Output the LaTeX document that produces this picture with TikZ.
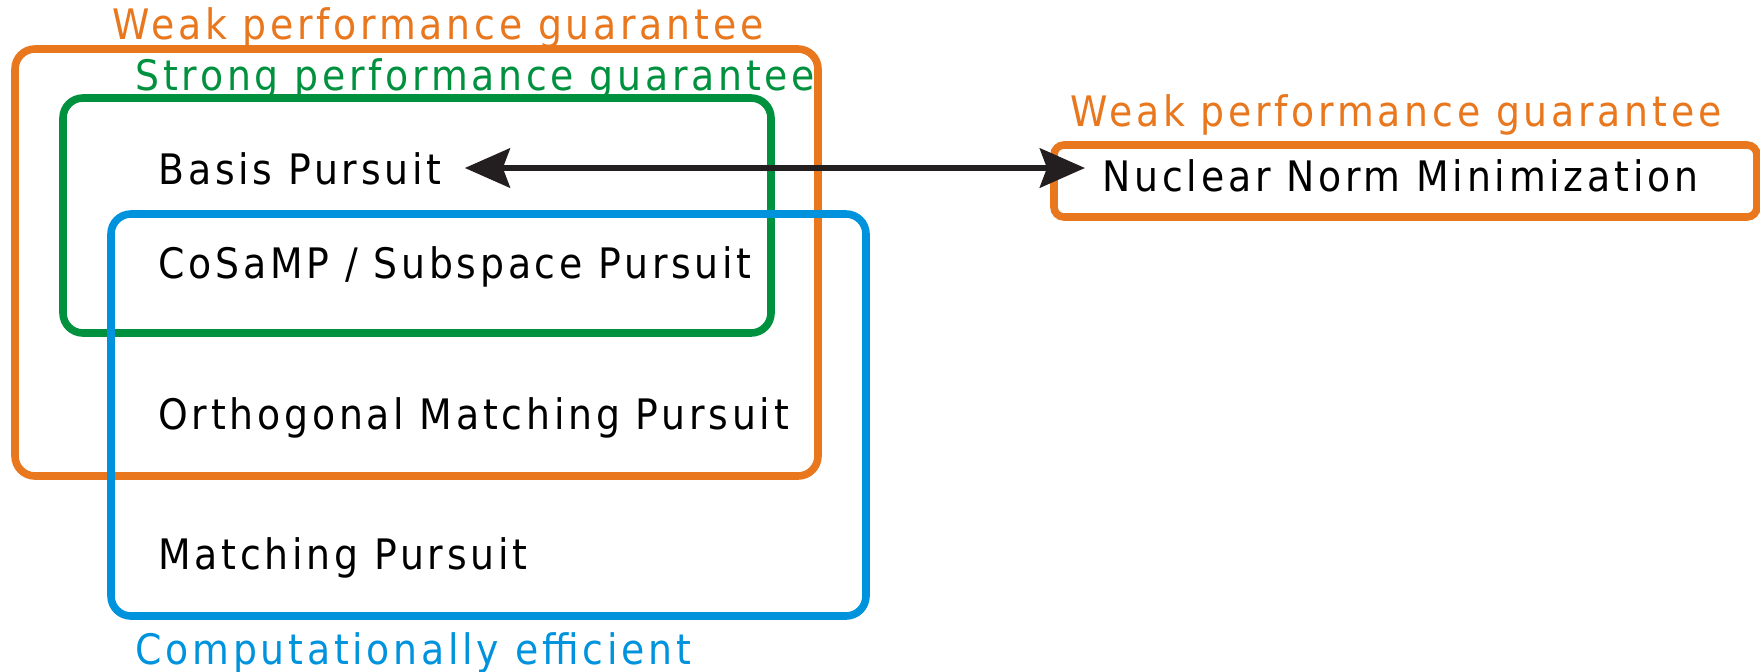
\documentclass[tikz,border=0pt]{standalone}
\usepackage{fontspec}
\setmainfont{DejaVu Sans Condensed}[LetterSpace=9]
\usetikzlibrary{arrows.meta}
\definecolor{weakorange}{HTML}{E8771E}
\definecolor{stronggreen}{HTML}{00913F}
\definecolor{effblue}{HTML}{0093DD}
\definecolor{arrowblack}{HTML}{231F20}
\tikzset{
  setbox/.style={line width=3.8pt, rounded corners=10pt},
  algo/.style={anchor=base west, inner sep=0pt, font=\fontsize{21}{25}\selectfont, text=black},
  setlabel/.style={anchor=base west, inner sep=0pt, font=\fontsize{21}{25}\selectfont},
  >={Stealth[length=22.5pt,width=19.5pt,inset=3.5pt]},
}
\begin{document}
\begin{tikzpicture}[x=0.5pt,y=-0.5pt]
\useasboundingbox (0,0) rectangle (1760,671);

% the three overlapping sets
\draw[setbox, weakorange] (15,49) rectangle (818,476);
\draw[setbox, stronggreen] (63,98) rectangle (771,333);
\draw[setbox, effblue] (111,214) rectangle (866,616);
% matrix-recovery set
\draw[setbox, weakorange, rounded corners=5pt] (1054,145) rectangle (1757,217);

% set labels
\node[setlabel, text=weakorange] (weakL) at (112,39) {Weak performance guarantee};
\node[setlabel, text=stronggreen] (strong) at (135,90) {Strong performance guarantee};
\node[setlabel, text=effblue] (eff) at (135,664) {Computationally efficient};
\node[setlabel, text=weakorange] (weakR) at (1070,126) {Weak performance guarantee};

% algorithms
\node[algo] (bp) at (158,184) {Basis Pursuit};
\node[algo] (cosamp) at (158,278) {CoSaMP / Subspace Pursuit};
\node[algo] (omp) at (158,429) {Orthogonal Matching Pursuit};
\node[algo] (mp) at (158,569) {Matching Pursuit};
\node[algo] (nn) at (1102,191) {Nuclear Norm Minimization};

% correspondence between the two convex relaxations
\draw[arrowblack, line width=3.3pt, <->,
      shorten <=11.5pt, shorten >=8.5pt]
  (bp.east |- 0,168) -- (nn.west |- 0,168);
\end{tikzpicture}
\end{document}
